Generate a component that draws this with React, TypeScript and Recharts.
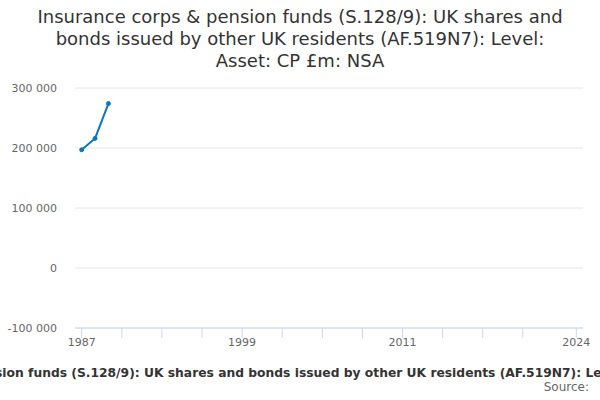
import React from 'react';
import { LineChart, Line, XAxis, YAxis, CartesianGrid } from 'recharts';

const years = [1987, 1988, 1989];
const values = [197000, 216000, 274000];

const xTicks = [1987, 1990, 1993, 1996, 1999, 2002, 2005, 2008, 2011, 2014, 2017, 2020, 2024];
const xLabels = [1987, 1999, 2011, 2024];
const yTicks = [-100000, 0, 100000, 200000, 300000];

const title = [
  'Insurance corps & pension funds (S.128/9): UK shares and',
  'bonds issued by other UK residents (AF.519N7): Level:',
  'Asset: CP £m: NSA',
];
const axisTitle =
  'Insurance corps & pension funds (S.128/9): UK shares and bonds issued by other UK residents (AF.519N7): Level: Asset: CP £m: NSA';

const data = years.map((year, i) => ({ year, value: values[i] }));

const font = '"DejaVu Sans", sans-serif';

const fmt = (v: number) => String(v).replace(/\B(?=(\d{3})+(?!\d))/g, ' ');

export default function App() {
  return (
    <div style={{ position: 'absolute', left: 0, top: 0, width: 600, height: 400, background: '#fff', fontFamily: font, overflow: 'hidden' }}>
      <div style={{ position: 'absolute', top: 6, left: 0, width: 600, textAlign: 'center', fontSize: 18, lineHeight: '22px', color: '#333' }}>
        {title.map((t) => (
          <div key={t}>{t}</div>
        ))}
      </div>
      <LineChart width={600} height={400} data={data} margin={{ top: 88, right: 17, bottom: 42, left: 0 }}>
        <CartesianGrid horizontal vertical={false} stroke="#e6e6e6" />
        <XAxis
          dataKey="year"
          type="number"
          domain={[1986.5, 2024.5]}
          ticks={xTicks}
          interval={0}
          height={30}
          stroke="#ccd6eb"
          tickSize={10}
          tickMargin={0}
          tick={(props: any) => {
            const { x, y, payload } = props;
            if (!xLabels.includes(payload.value)) return <g />;
            return (
              <text x={x} y={y} dy="0.71em" textAnchor="middle" fill="#666" fontSize={11} fontFamily={font}>
                {payload.value}
              </text>
            );
          }}
        />
        <YAxis
          type="number"
          domain={[-100000, 300000]}
          ticks={yTicks}
          width={75}
          axisLine={false}
          tickLine={false}
          tickMargin={12}
          tickFormatter={fmt}
          tick={{ fill: '#666', fontSize: 11, fontFamily: font }}
        />
        <Line
          type="linear"
          dataKey="value"
          stroke="#0a77bd"
          strokeWidth={2}
          dot={{ r: 2, fill: '#0a77bd', stroke: '#0a77bd', strokeWidth: 1 }}
          isAnimationActive={false}
        />
      </LineChart>
      <div style={{ position: 'absolute', top: 366, left: 0, width: 600, display: 'flex', justifyContent: 'center', whiteSpace: 'nowrap', fontSize: 12.3, fontWeight: 'bold', color: '#333' }}>
        <span>{axisTitle}</span>
      </div>
      <div style={{ position: 'absolute', top: 380, right: 11, fontSize: 12, color: '#666' }}>Source:</div>
    </div>
  );
}
